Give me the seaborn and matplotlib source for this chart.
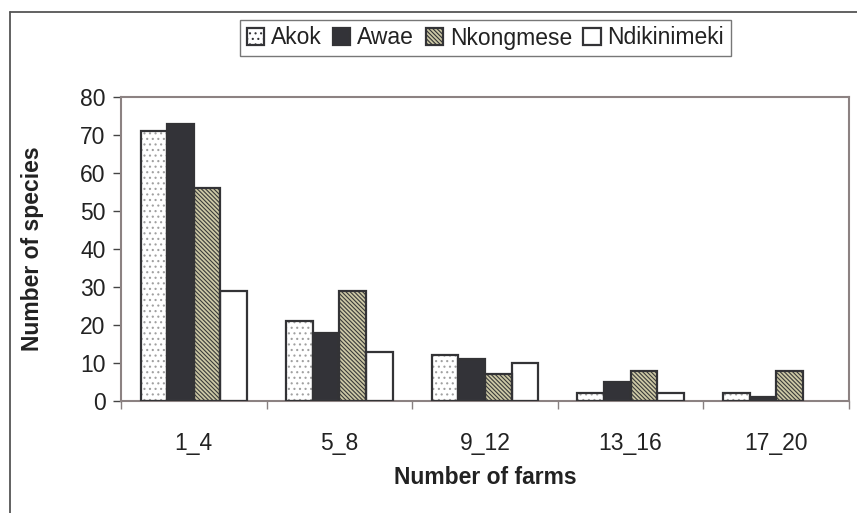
import matplotlib
matplotlib.use("Agg")
import matplotlib.pyplot as plt
from matplotlib.lines import Line2D
from matplotlib.patches import Rectangle
import seaborn as sns
import pandas as pd

# Species counts by number of farms in which they occur, per village
farm_classes = ["1_4", "5_8", "9_12", "13_16", "17_20"]
villages = ["Akok", "Awae", "Nkongmese", "Ndikinimeki"]
akok = [71, 21, 12, 2, 2]
awae = [73, 18, 11, 5, 1]
nkongmese = [56, 29, 7, 8, 8]
ndikinimeki = [29, 13, 10, 2, 0]
y_ticks = [0, 10, 20, 30, 40, 50, 60, 70, 80]

series = {"Akok": akok, "Awae": awae, "Nkongmese": nkongmese, "Ndikinimeki": ndikinimeki}
df = pd.DataFrame(
    [(fc, v, series[v][i]) for v in villages for i, fc in enumerate(farm_classes)],
    columns=["farms", "village", "species"],
)

sns.set_style("white")
plt.rcParams["font.family"] = ["Liberation Sans", "DejaVu Sans"]
plt.rcParams["hatch.linewidth"] = 0.8

EDGE = "#333336"
fills = {"Akok": "#ffffff", "Awae": "#333338", "Nkongmese": "#cdc9a6", "Ndikinimeki": "#ffffff"}
hatches = {"Akok": "...", "Awae": "", "Nkongmese": "\\\\\\\\\\\\\\\\", "Ndikinimeki": ""}
hatch_cols = {"Akok": "#a0a0a0", "Awae": EDGE, "Nkongmese": "#3a3a3a", "Ndikinimeki": EDGE}

fig = plt.figure(figsize=(8.57, 5.13), dpi=100)
ax = fig.add_axes([121 / 857, 1 - 401 / 513, 728 / 857, 304 / 513])

sns.barplot(
    data=df, x="farms", y="species", hue="village", order=farm_classes,
    hue_order=villages, palette=fills, width=0.73, dodge=True,
    edgecolor=EDGE, linewidth=0, saturation=1, errorbar=None, legend=False, ax=ax,
)

# restyle bars: hatch fill, then a crisp dark outline on top
bars = [p for p in ax.patches if isinstance(p, Rectangle)]
n = len(farm_classes)
for k, p in enumerate(bars):
    v = villages[k // n]
    p.set_hatch(hatches[v])
    p.set_edgecolor(hatch_cols[v])
    p.set_linewidth(0)
    if p.get_height() > 0:
        ax.add_patch(Rectangle(p.get_xy(), p.get_width(), p.get_height(),
                               fill=False, edgecolor=EDGE, linewidth=1.6, zorder=3))

ax.set_ylim(0, 80)
ax.set_xlim(-0.5, len(farm_classes) - 0.5)
ax.set_yticks(y_ticks)
ax.tick_params(axis="y", which="major", direction="out", length=6, width=1,
               color="#444444", labelsize=16.5, pad=5, labelcolor="#222222", left=True)
ax.set_xticks(range(len(farm_classes)))
ax.set_xticklabels(farm_classes)
ax.set_xticks([i - 0.5 for i in range(len(farm_classes) + 1)], minor=True)
ax.tick_params(axis="x", which="major", length=0, labelsize=16.5, pad=22, labelcolor="#222222")
ax.tick_params(axis="x", which="minor", direction="out", length=6, width=1,
               color="#888080", bottom=True)

for s in ax.spines.values():
    s.set_visible(True)
    s.set_color("#8c8282")
    s.set_linewidth(1.5)

ax.set_xlabel("Number of farms", fontsize=16.5, fontweight="bold", color="#222222", labelpad=8)
ax.set_ylabel("Number of species", fontsize=16.5, fontweight="bold", color="#222222", labelpad=26)

# legend with square swatches
handles = []
for v in villages:
    h = Rectangle((0, 0), 1, 1, facecolor=fills[v], hatch=hatches[v],
                  edgecolor=EDGE, linewidth=1.6)
    handles.append(h)
leg = fig.legend(handles, villages, loc="center", bbox_to_anchor=(485.5 / 857, 1 - 38 / 513),
                 ncol=4, fontsize=16.5, frameon=True, fancybox=False, handlelength=0.75,
                 handleheight=0.75, handletextpad=0.3, columnspacing=0.5, borderpad=0.3,
                 borderaxespad=0)
leg.get_frame().set_edgecolor("#555555")
leg.get_frame().set_linewidth(1.0)
for t in leg.get_texts():
    t.set_color("#222222")

# outer frame lines along the top and left of the figure
fig.add_artist(Line2D([10 / 857, 1], [1 - 12 / 513, 1 - 12 / 513], color="#555555", lw=1.3,
                      transform=fig.transFigure))
fig.add_artist(Line2D([10 / 857, 10 / 857], [0, 1 - 12 / 513], color="#555555", lw=1.3,
                      transform=fig.transFigure))

fig.savefig("out.png", dpi=100)
